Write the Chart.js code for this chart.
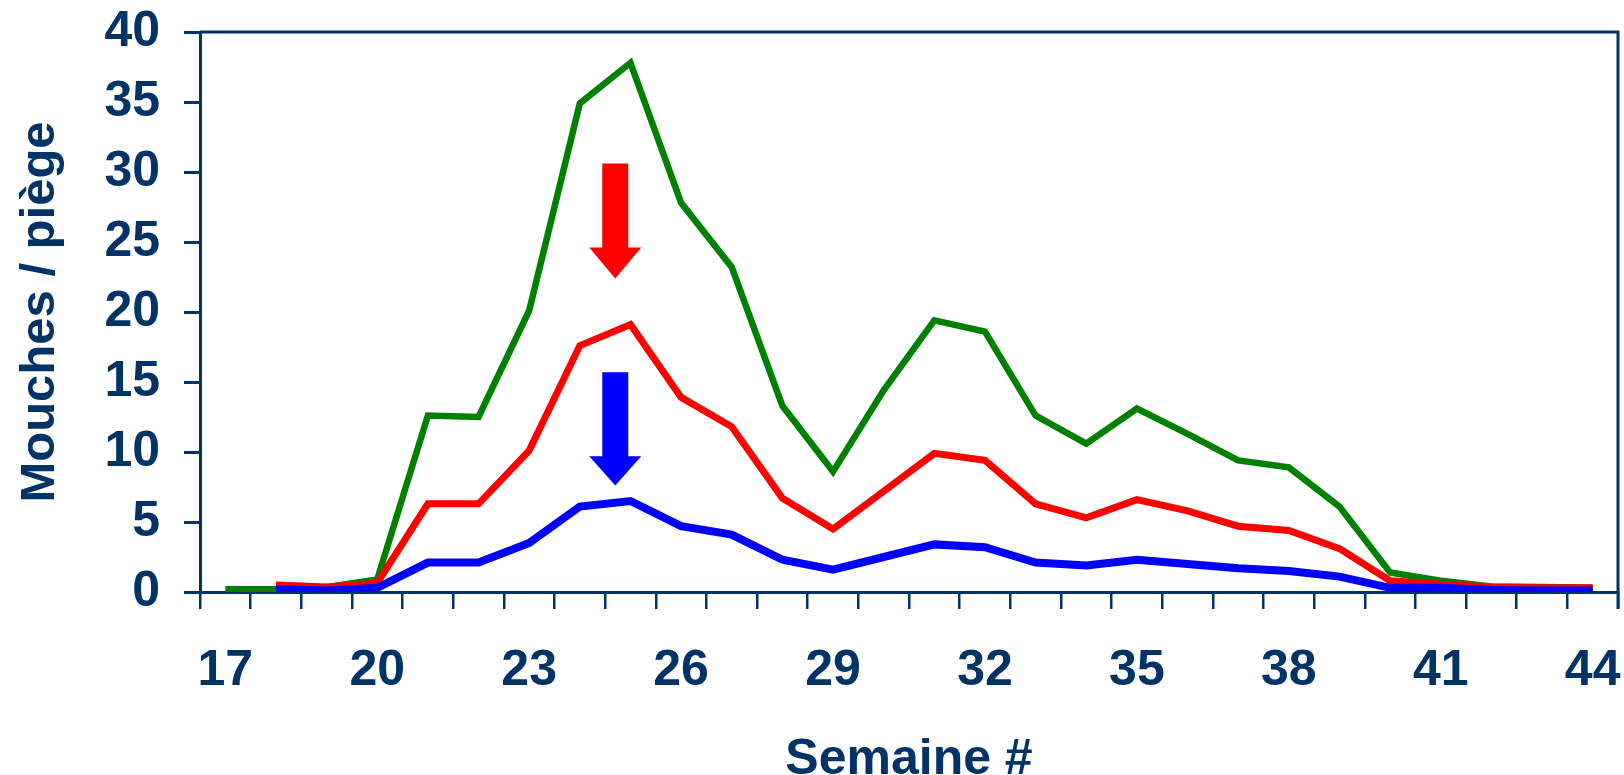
<!DOCTYPE html>
<html>
<head>
<meta charset="utf-8">
<script src="https://cdn.jsdelivr.net/npm/chart.js@4.4.1/dist/chart.umd.min.js"></script>
<style>
  html, body { margin: 0; padding: 0; background: #fff; }
  #wrap { width: 1624px; height: 775px; }
</style>
</head>
<body>
<div id="wrap"><canvas id="myChart"></canvas></div>
<script>
// semaines 17 a 44
const weeks = ['17','18','19','20','21','22','23','24','25','26','27','28','29','30',
               '31','32','33','34','35','36','37','38','39','40','41','42','43','44'];
const xTickLabels = ['17','20','23','26','29','32','35','38','41','44'];
const yTicks = [0, 5, 10, 15, 20, 25, 30, 35, 40];

const green = [0.2, 0.2, 0.35, 0.9, 12.6, 12.5, 20.1, 34.9, 37.8, 27.8, 23.2, 13.3, 8.6, 14.4,
               19.4, 18.6, 12.6, 10.6, 13.1, 11.3, 9.4, 8.9, 6.1, 1.4, 0.8, 0.4, 0.35, 0.3];
const red   = [null, 0.5, 0.35, 0.65, 6.3, 6.3, 10.1, 17.6, 19.1, 13.9, 11.8, 6.7, 4.5, 7.2,
               9.9, 9.4, 6.3, 5.3, 6.6, 5.8, 4.7, 4.4, 3.1, 0.8, 0.55, 0.35, 0.3, 0.3];
const blue  = [null, 0.2, 0.1, 0.3, 2.1, 2.1, 3.5, 6.1, 6.5, 4.7, 4.1, 2.3, 1.6, 2.5,
               3.4, 3.2, 2.1, 1.9, 2.3, 2.0, 1.7, 1.5, 1.1, 0.3, 0.3, 0.15, 0.1, 0.1];

// fleches : position en semaine, haut, fin du corps, pointe (en mouches/piege)
const arrowRed  = { week: 24.7, top: 30.6, neck: 24.6, tip: 22.4 };
const arrowBlue = { week: 24.7, top: 15.7, neck: 9.7, tip: 7.6 };

const navy = '#003366';
const font = "'Liberation Sans', Arial, sans-serif";

// cadre en haut et a droite
const frame = {
  id: 'frame',
  afterDraw(chart) {
    const a = chart.chartArea, c = chart.ctx;
    c.save();
    c.strokeStyle = navy;
    c.lineWidth = 3;
    c.beginPath();
    c.moveTo(a.left, a.top);
    c.lineTo(a.right, a.top);
    c.lineTo(a.right, a.bottom + 17);
    c.stroke();
    c.restore();
  }
};

function drawArrow(chart, ar, color) {
  const x = chart.scales.x, y = chart.scales.y, c = chart.ctx;
  const cx = x.getPixelForValue(ar.week - 17);
  const top = y.getPixelForValue(ar.top);
  const neck = y.getPixelForValue(ar.neck);
  const tip = y.getPixelForValue(ar.tip);
  c.save();
  c.fillStyle = color;
  c.beginPath();
  c.moveTo(cx - 13, top);
  c.lineTo(cx + 13, top);
  c.lineTo(cx + 13, neck);
  c.lineTo(cx + 26, neck);
  c.lineTo(cx, tip);
  c.lineTo(cx - 26, neck);
  c.lineTo(cx - 13, neck);
  c.closePath();
  c.fill();
  c.restore();
}

const arrows = {
  id: 'arrows',
  afterDatasetsDraw(chart) {
    drawArrow(chart, arrowRed, '#ff0000');
    drawArrow(chart, arrowBlue, '#0000ff');
  }
};

const ctx = document.getElementById('myChart');

var chart = new Chart(ctx, {
  type: 'line',
  data: {
    labels: weeks,
    datasets: [
      { label: 'vert', data: green, borderColor: '#008000', borderWidth: 6.5, order: 3 },
      { label: 'rouge', data: red, borderColor: '#ff0000', borderWidth: 7, order: 2 },
      { label: 'bleu', data: blue, borderColor: '#0000ff', borderWidth: 8, order: 1 }
    ]
  },
  options: {
    responsive: true,
    maintainAspectRatio: false,
    animation: false,
    elements: { point: { radius: 0, hoverRadius: 0 }, line: { tension: 0 } },
    layout: { padding: { left: 0, right: 6, top: 32, bottom: 0 } },
    plugins: { legend: false, tooltip: { enabled: false } },
    scales: {
      x: {
        offset: true,
        grid: { offset: true, drawOnChartArea: false, drawTicks: true, tickLength: 17, color: navy, lineWidth: 2.5 },
        border: { color: navy, width: 3 },
        ticks: {
          autoSkip: false,
          maxRotation: 0,
          padding: 32,
          color: navy,
          font: { family: font, size: 50, weight: 'bold' },
          callback: function (val) {
            const l = this.getLabelForValue(val);
            return xTickLabels.includes(l) ? l : '';
          }
        },
        title: {
          display: true,
          text: 'Semaine #',
          color: navy,
          padding: 0,
          font: { family: font, size: 50, weight: 'bold', lineHeight: 0.6 }
        },
        afterFit(scale) {
          scale.height = 183;
          scale.paddingLeft = 0;
          scale.paddingRight = 0;
        }
      },
      y: {
        min: 0,
        max: 40,
        afterBuildTicks(scale) { scale.ticks = yTicks.map(v => ({ value: v })); },
        grid: { drawOnChartArea: false, drawTicks: true, tickLength: 16, color: navy, lineWidth: 3 },
        border: { color: navy, width: 3 },
        ticks: {
          padding: 24,
          color: navy,
          font: { family: font, size: 50, weight: 'bold' }
        },
        title: {
          display: true,
          text: 'Mouches / piège',
          color: navy,
          padding: { top: 11, bottom: 0 },
          font: { family: font, size: 49, weight: 'bold' }
        },
        afterFit(scale) {
          scale.width = 200;
          scale.paddingTop = 0;
          scale.paddingBottom = 0;
        }
      }
    }
  },
  plugins: [frame, arrows]
});
</script>
</body>
</html>
